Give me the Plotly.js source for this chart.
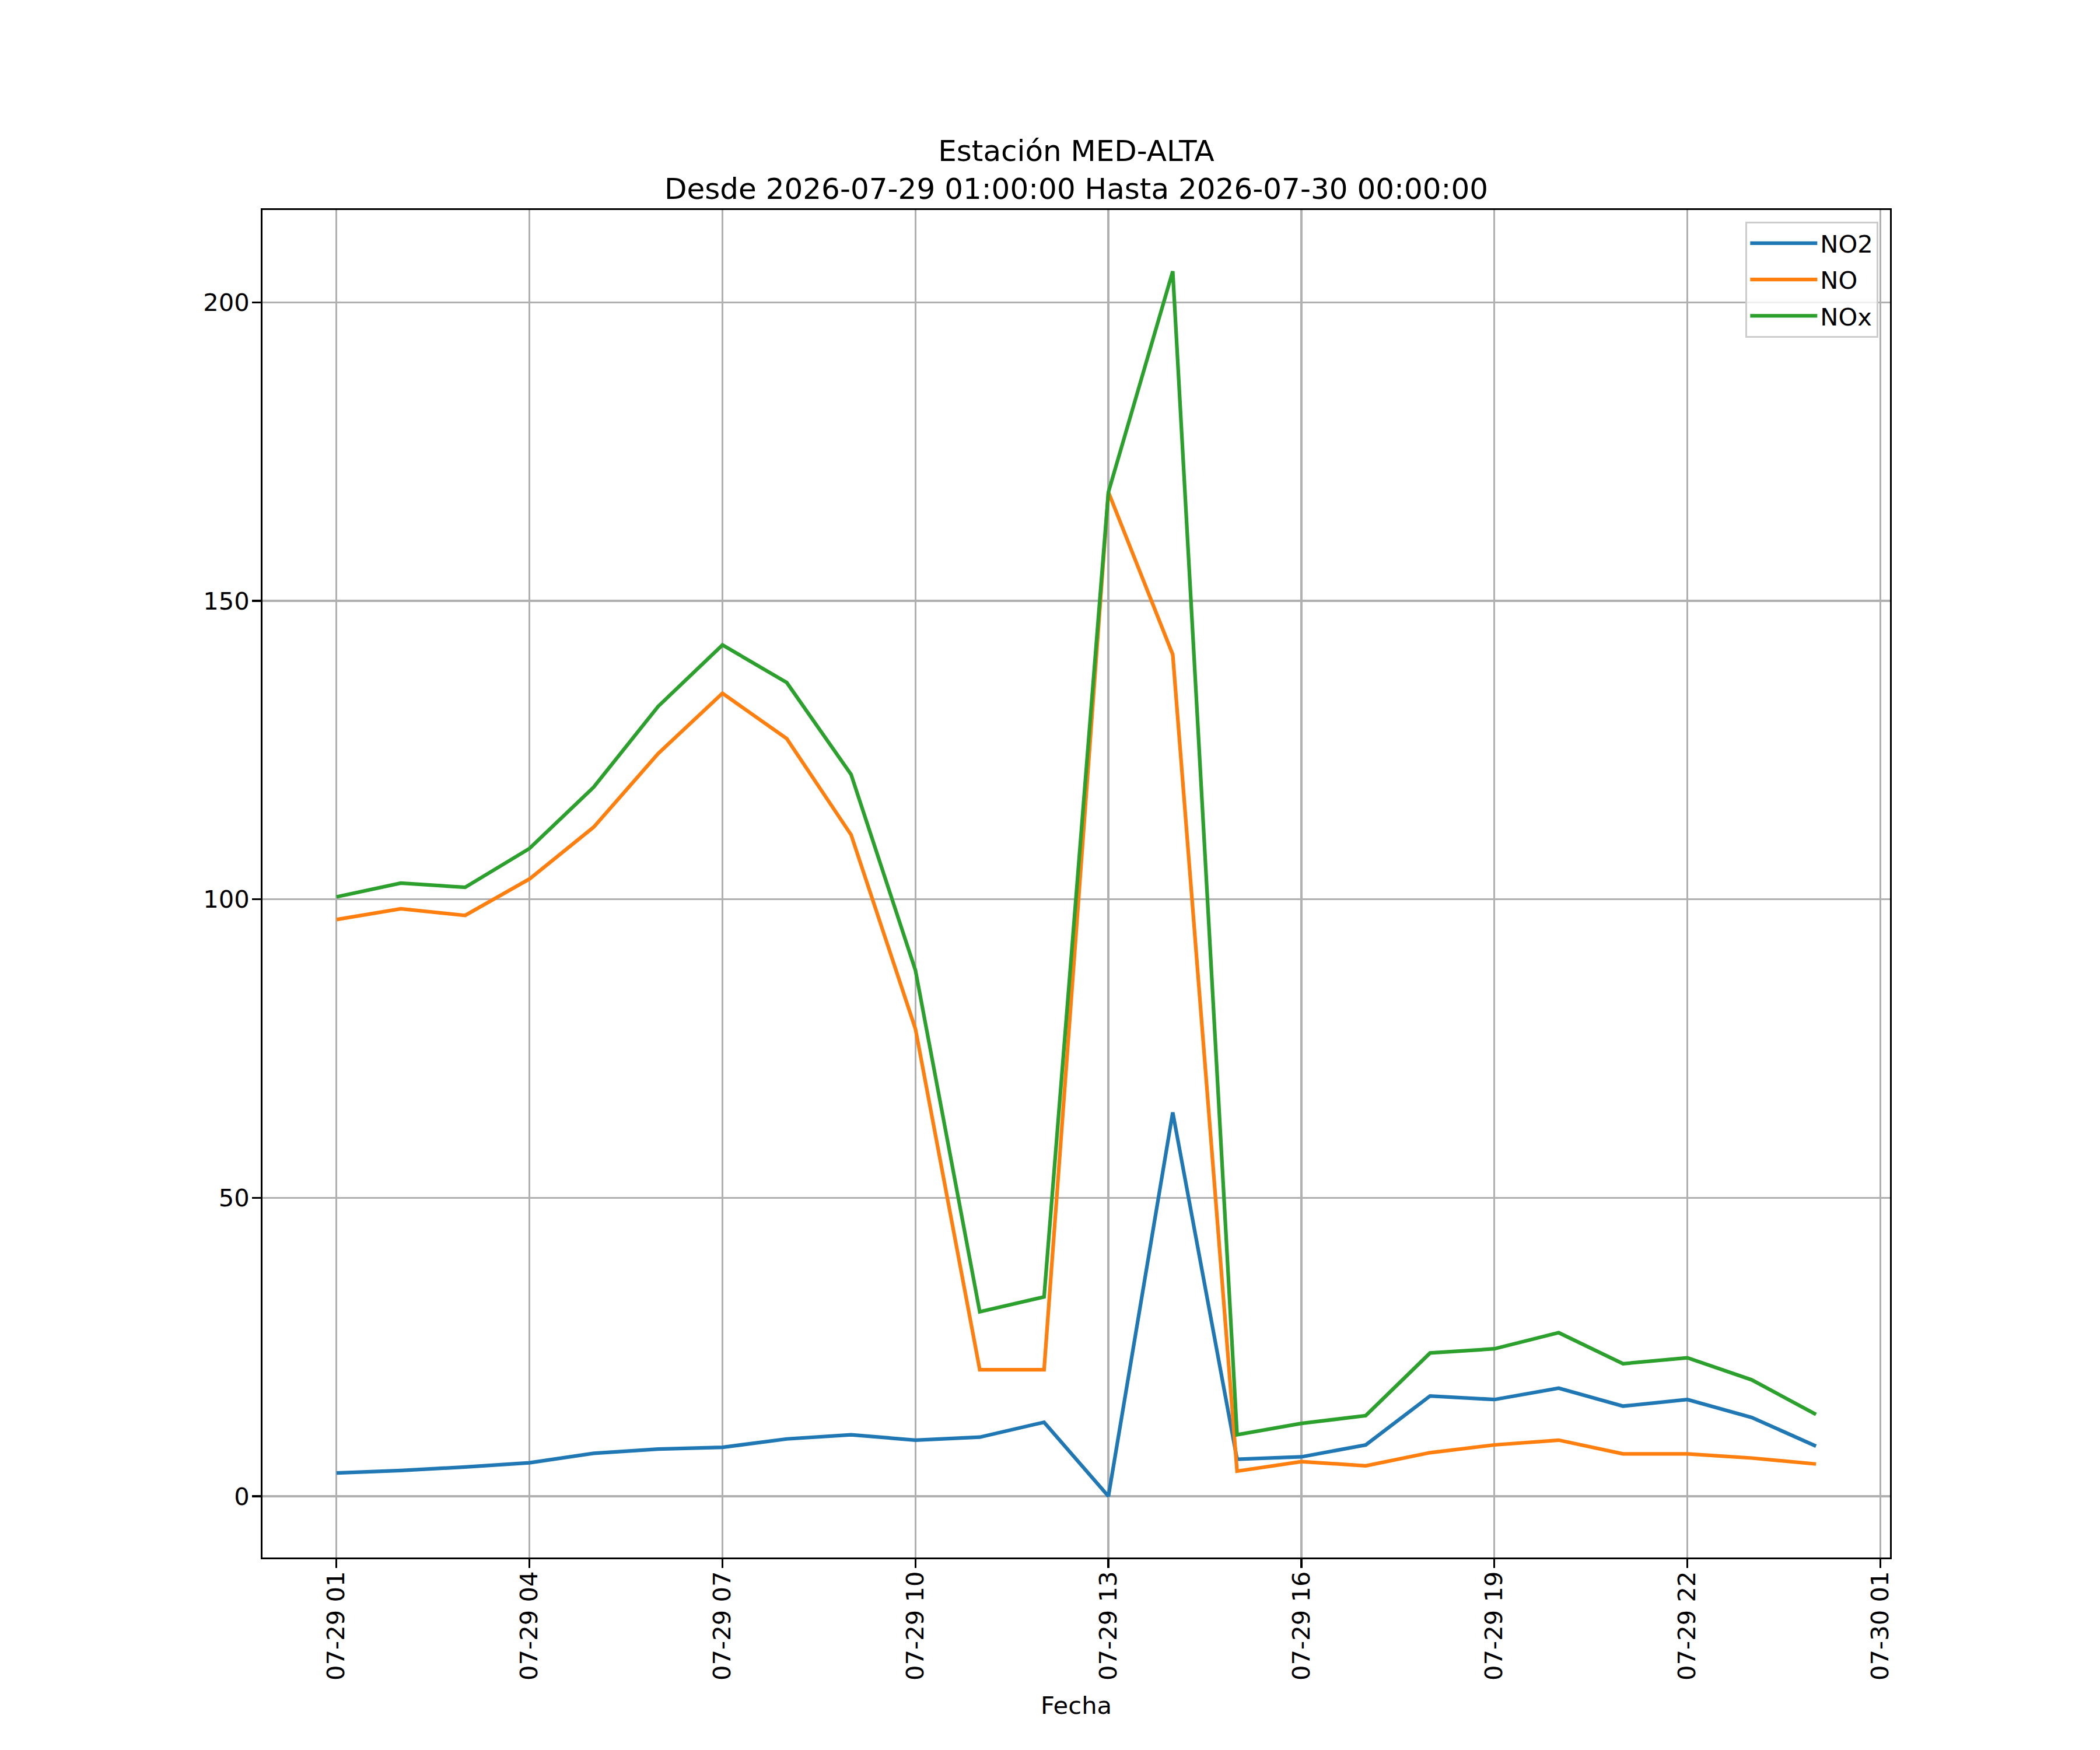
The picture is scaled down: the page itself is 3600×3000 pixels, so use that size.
<!DOCTYPE html>
<html>
<head>
<meta charset="utf-8">
<script src="https://cdn.plot.ly/plotly-3.0.1.min.js"></script>
<style>
  body { margin: 0; background: #fff; }
</style>
</head>
<body>
<div id="chart" style="width:3600px;height:3000px;"></div>
<script>
// hourly readings, 2026-07-29 01:00 .. 2026-07-30 00:00
const fechas = [
  '2026-07-29 01:00', '2026-07-29 02:00', '2026-07-29 03:00', '2026-07-29 04:00',
  '2026-07-29 05:00', '2026-07-29 06:00', '2026-07-29 07:00', '2026-07-29 08:00',
  '2026-07-29 09:00', '2026-07-29 10:00', '2026-07-29 11:00', '2026-07-29 12:00',
  '2026-07-29 13:00', '2026-07-29 14:00', '2026-07-29 15:00', '2026-07-29 16:00',
  '2026-07-29 17:00', '2026-07-29 18:00', '2026-07-29 19:00', '2026-07-29 20:00',
  '2026-07-29 21:00', '2026-07-29 22:00', '2026-07-29 23:00', '2026-07-30 00:00'
];
const no2 = [3.9, 4.3, 4.9, 5.6, 7.2, 7.9, 8.2, 9.6, 10.3, 9.4, 9.9, 12.4,
             0.0, 64.3, 6.2, 6.6, 8.6, 16.8, 16.2, 18.1, 15.1, 16.2, 13.2, 8.4];
const no = [96.6, 98.4, 97.3, 103.4, 112.1, 124.4, 134.5, 126.9, 110.8, 78.3, 21.2, 21.2,
            168.2, 141.0, 4.2, 5.8, 5.1, 7.3, 8.6, 9.4, 7.1, 7.1, 6.4, 5.4];
const nox = [100.4, 102.7, 102.0, 108.5, 118.8, 132.3, 142.6, 136.3, 120.9, 88.1, 30.9, 33.4,
             168.2, 205.2, 10.3, 12.2, 13.5, 24.0, 24.7, 27.4, 22.2, 23.2, 19.5, 13.7];

const tickVals = ['2026-07-29 01:00', '2026-07-29 04:00', '2026-07-29 07:00', '2026-07-29 10:00',
                  '2026-07-29 13:00', '2026-07-29 16:00', '2026-07-29 19:00', '2026-07-29 22:00',
                  '2026-07-30 01:00'];
const tickText = ['07-29 01', '07-29 04', '07-29 07', '07-29 10', '07-29 13',
                  '07-29 16', '07-29 19', '07-29 22', '07-30 01'];

const fs = 41.67; // 10pt at 300 dpi
const lw = 6.25;  // 1.5pt

const traces = [
  { x: fechas, y: no2, name: 'NO2', legendgroup: 'a', type: 'scatter', mode: 'lines', line: { color: '#1f77b4', width: lw } },
  { x: fechas, y: no, name: 'NO', legendgroup: 'b', type: 'scatter', mode: 'lines', line: { color: '#ff7f0e', width: lw } },
  { x: fechas, y: nox, name: 'NOx', legendgroup: 'c', type: 'scatter', mode: 'lines', line: { color: '#2ca02c', width: lw } }
];

const axisCommon = {
  showgrid: true,
  gridcolor: '#b0b0b0',
  gridwidth: 3.33,
  showline: true,
  mirror: true,
  linecolor: '#000',
  linewidth: 3.33,
  ticks: 'outside',
  ticklen: 14.6,
  tickwidth: 3.33,
  tickcolor: '#000',
  zeroline: false,
  automargin: false,
  tickfont: { family: 'DejaVu Sans', size: fs, color: '#000' }
};

const layout = {
  width: 3600,
  height: 3000,
  paper_bgcolor: '#fff',
  plot_bgcolor: '#fff',
  font: { family: 'DejaVu Sans', size: fs, color: '#000' },
  margin: { l: 450, r: 360, t: 360, b: 330, pad: 0 },
  title: {
    text: 'Estación MED-ALTA<br>Desde 2026-07-29 01:00:00 Hasta 2026-07-30 00:00:00',
    font: { family: 'DejaVu Sans', size: 50, color: '#000' },
    xref: 'paper', x: 0.5, xanchor: 'center',
    yref: 'container', y: 1 - 276 / 3000, yanchor: 'middle'
  },
  xaxis: Object.assign({}, axisCommon, {
    type: 'date',
    range: ['2026-07-28 23:51', '2026-07-30 01:09'],
    tickmode: 'array',
    tickvals: tickVals,
    ticktext: tickText,
    tickangle: -90,
    ticklabelstandoff: -11,
    title: { text: 'Fecha', font: { family: 'DejaVu Sans', size: fs, color: '#000' }, standoff: 30 }
  }),
  yaxis: Object.assign({}, axisCommon, {
    range: [-10.26, 215.46],
    tickmode: 'array',
    tickvals: [0, 50, 100, 150, 200],
    ticktext: ['0', '50', '100', '150', '200'],
    ticklabelstandoff: -4
  }),
  showlegend: true,
  legend: {
    x: 1 - 20 / 2790, xanchor: 'right',
    y: 1 - 20 / 2310, yanchor: 'top',
    bgcolor: 'rgba(255,255,255,0.8)',
    bordercolor: '#cccccc',
    borderwidth: 3.33,
    font: { family: 'DejaVu Sans', size: fs, color: '#000' },
    itemwidth: 115,
    tracegroupgap: 5
  }
};

Plotly.newPlot('chart', traces, layout, { staticPlot: true, displayModeBar: false });
</script>
</body>
</html>
